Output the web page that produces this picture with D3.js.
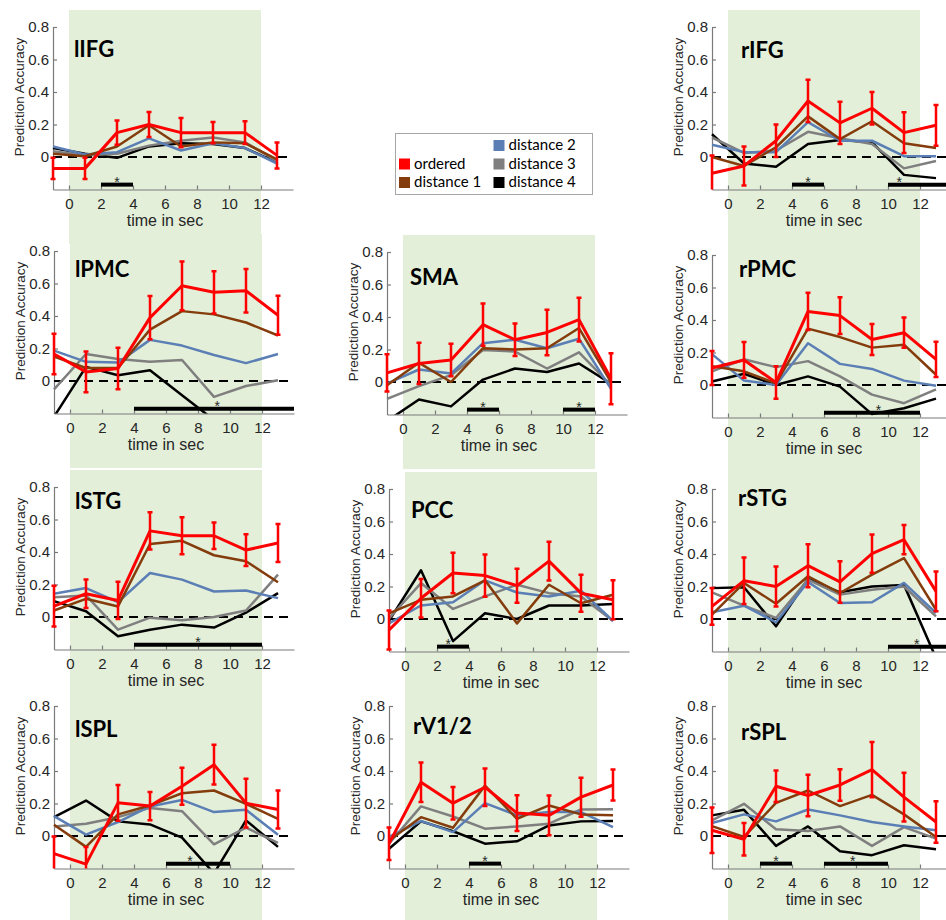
<!DOCTYPE html>
<html>
<head>
<meta charset="utf-8">
<script src="https://cdn.jsdelivr.net/npm/d3@7"></script>
<style>
	body { margin: 0; background: #fff; }
	svg { display: block; }
	.axis path, .axis line { stroke: #7a7a7a; stroke-width: 1.2; }
	.axis .tick text { font-family: "Liberation Sans", Arial, sans-serif; font-size: 15px; fill: #262626; }
	.lbl { font-family: "Liberation Sans", Arial, sans-serif; fill: #262626; }
	.title { font-family: Lato, "Open Sans", sans-serif; font-weight: bold; font-size: 22px; fill: #000; }
	.legend text { font-family: Lato, "Open Sans", sans-serif; font-size: 15px; fill: #000; }
</style>
</head>
<body>
<div id="chart"></div>
<script>
const times = [-1, 1, 3, 5, 7, 9, 11, 13]
const xTicks = [0, 2, 4, 6, 8, 10, 12]
const yTicks = [0, 0.2, 0.4, 0.6, 0.8]
const seriesNames = ['ordered', 'distance 1', 'distance 2', 'distance 3', 'distance 4']
// legend grid slot (column-major, 3 rows), slot 0 is empty
const legendSlots = [1, 2, 3, 4, 5]

// rows: ordered, distance 1, distance 2, distance 3, distance 4
const lIFG = [
	[-0.07, -0.07, 0.15, 0.2, 0.15, 0.15, 0.15, 0.01],
	[0.02, 0.005, 0.065, 0.195, 0.065, 0.09, 0.085, -0.015],
	[0.065, 0.015, 0.03, 0.115, 0.04, 0.085, 0.055, -0.04],
	[0.035, 0.01, 0.02, 0.07, 0.1, 0.12, 0.09, -0.025],
	[0.055, 0.02, -0.005, 0.065, 0.085, 0.08, 0.055, -0.035]
]
const lIFG_err = [0.065, 0.065, 0.075, 0.077, 0.09, 0.065, 0.07, 0.08]
const lIFG_sig = [[2, 4, 3]]

const rIFG = [
	[-0.1, -0.055, 0.1, 0.345, 0.21, 0.3, 0.15, 0.195],
	[0.0, -0.055, 0.06, 0.25, 0.11, 0.22, 0.085, 0.055],
	[0.075, 0.03, 0.03, 0.215, 0.1, 0.1, 0.005, 0.005],
	[0.12, 0.025, 0.04, 0.155, 0.115, 0.08, -0.07, -0.025],
	[0.14, -0.04, -0.06, 0.08, 0.105, 0.09, -0.11, -0.13]
]
const rIFG_err = [0.11, 0.12, 0.1, 0.13, 0.13, 0.1, 0.125, 0.125]
const rIFG_sig = [[4, 6, 5], [10, 14.5, 10.7]]

const lPMC = [
	[0.166, 0.056, 0.077, 0.39, 0.586, 0.546, 0.555, 0.405],
	[0.15, 0.08, 0.08, 0.316, 0.43, 0.41, 0.36, 0.28],
	[0.187, 0.118, 0.114, 0.253, 0.218, 0.16, 0.11, 0.166],
	[-0.052, 0.166, 0.135, 0.118, 0.129, -0.098, -0.031, 0.004],
	[-0.22, 0.087, 0.035, 0.066, -0.087, -0.24, -0.3, -0.3]
]
const lPMC_err = [0.125, 0.125, 0.127, 0.133, 0.15, 0.13, 0.134, 0.12]
const lPMC_sig = [[4, 14, 9.2]]

const SMA = [
	[0.056, 0.114, 0.135, 0.353, 0.26, 0.305, 0.384, 0.02],
	[-0.02, 0.118, 0.0, 0.208, 0.2, 0.208, 0.332, 0.0],
	[-0.01, 0.077, 0.052, 0.239, 0.26, 0.208, 0.266, -0.042],
	[-0.104, -0.025, 0.042, 0.197, 0.187, 0.083, 0.183, -0.02],
	[-0.24, -0.108, -0.15, 0.015, 0.083, 0.062, 0.114, -0.01]
]
const SMA_err = [0.115, 0.127, 0.1, 0.13, 0.1, 0.14, 0.135, 0.157]
const SMA_sig = [[4, 6, 5], [10, 12, 11]]

const rPMC = [
	[0.105, 0.154, 0.015, 0.453, 0.427, 0.28, 0.322, 0.158],
	[0.116, 0.084, 0.01, 0.347, 0.295, 0.23, 0.248, 0.063],
	[0.19, 0.027, 0.0, 0.257, 0.13, 0.099, 0.027, -0.004],
	[0.084, 0.158, 0.11, 0.147, 0.053, -0.059, -0.112, -0.027],
	[0.021, 0.069, 0.0, 0.053, -0.01, -0.179, -0.143, -0.084]
]
const rPMC_err = [0.105, 0.11, 0.1, 0.115, 0.113, 0.096, 0.093, 0.108]
const rPMC_sig = [[6, 12, 9.4]]

const lSTG = [
	[0.067, 0.143, 0.102, 0.53, 0.5, 0.5, 0.412, 0.455],
	[0.04, 0.112, 0.065, 0.449, 0.469, 0.38, 0.343, 0.214],
	[0.143, 0.178, 0.092, 0.271, 0.23, 0.157, 0.163, 0.116],
	[0.122, 0.133, -0.078, -0.004, -0.02, 0.0, 0.04, 0.261],
	[0.098, 0.035, -0.118, -0.078, -0.047, -0.065, 0.027, 0.147]
]
const lSTG_err = [0.125, 0.088, 0.115, 0.114, 0.114, 0.082, 0.098, 0.117]
const lSTG_sig = [[4, 12, 8]]

const PCC = [
	[-0.068, 0.128, 0.283, 0.267, 0.205, 0.356, 0.159, 0.118],
	[0.035, 0.118, 0.139, 0.238, -0.027, 0.211, 0.097, 0.149],
	[-0.027, 0.083, 0.103, 0.238, 0.163, 0.139, 0.174, -0.012],
	[0.004, 0.221, 0.062, 0.139, 0.211, 0.159, 0.139, -0.012],
	[-0.012, 0.3, -0.136, 0.035, 0.0, 0.083, 0.083, 0.093]
]
const PCC_err = [0.12, 0.118, 0.124, 0.13, 0.105, 0.119, 0.114, 0.12]
const PCC_sig = [[2, 4, 2.7]]

const rSTG = [
	[0.078, 0.236, 0.2, 0.328, 0.228, 0.402, 0.488, 0.17],
	[0.027, 0.222, 0.094, 0.263, 0.16, 0.273, 0.375, 0.057],
	[0.041, 0.082, -0.02, 0.228, 0.098, 0.103, 0.222, 0.037],
	[0.164, 0.082, 0.006, 0.242, 0.15, 0.18, 0.2, 0.016],
	[0.19, 0.195, -0.045, 0.246, 0.164, 0.2, 0.21, -0.24]
]
const rSTG_err = [0.113, 0.143, 0.123, 0.132, 0.128, 0.118, 0.09, 0.123]
const rSTG_sig = [[10, 14.5, 11.8]]

const lSPL = [
	[-0.108, -0.173, 0.204, 0.184, 0.306, 0.439, 0.202, 0.163],
	[0.069, -0.067, 0.133, 0.188, 0.263, 0.28, 0.198, 0.106],
	[0.122, 0.008, 0.086, 0.182, 0.222, 0.147, 0.161, 0.008],
	[0.059, 0.076, 0.116, 0.173, 0.153, -0.051, 0.051, -0.043],
	[0.116, 0.218, 0.09, 0.071, -0.01, -0.23, 0.096, -0.067]
]
const lSPL_err = [0.105, 0.106, 0.11, 0.087, 0.114, 0.122, 0.15, 0.117]
const lSPL_sig = [[6, 10, 7.5]]

const rV12 = [
	[-0.047, 0.331, 0.202, 0.3, 0.141, 0.127, 0.239, 0.314],
	[-0.027, 0.116, 0.051, 0.31, 0.106, 0.188, 0.133, 0.127],
	[-0.006, 0.092, 0.024, 0.202, 0.127, 0.147, 0.147, 0.055],
	[-0.047, 0.182, 0.12, 0.045, 0.059, 0.076, 0.163, 0.165],
	[-0.078, 0.09, 0.029, -0.047, -0.033, 0.065, 0.09, 0.092]
]
const rV12_err = [0.1, 0.122, 0.1, 0.115, 0.11, 0.122, 0.12, 0.095]
const rV12_sig = [[4, 6, 5]]

const rSPL = [
	[0.035, -0.02, 0.306, 0.249, 0.314, 0.408, 0.239, 0.086],
	[0.061, -0.006, 0.204, 0.28, 0.184, 0.253, 0.133, -0.006],
	[0.08, 0.133, 0.09, 0.163, 0.127, 0.086, 0.059, 0.035],
	[0.096, 0.198, 0.041, 0.031, 0.059, -0.061, 0.055, -0.016],
	[0.127, 0.161, -0.061, 0.059, -0.094, -0.118, -0.057, -0.082]
]
const rSPL_err = [0.14, 0.1, 0.097, 0.128, 0.097, 0.17, 0.15, 0.128]
const rSPL_sig = [[2, 4, 3], [6, 10, 7.8]]

const panels = [
	{ name: 'lIFG', values: lIFG, err: lIFG_err, sig: lIFG_sig },
	{ name: 'rIFG', values: rIFG, err: rIFG_err, sig: rIFG_sig },
	{ name: 'lPMC', values: lPMC, err: lPMC_err, sig: lPMC_sig },
	{ name: 'SMA', values: SMA, err: SMA_err, sig: SMA_sig },
	{ name: 'rPMC', values: rPMC, err: rPMC_err, sig: rPMC_sig },
	{ name: 'lSTG', values: lSTG, err: lSTG_err, sig: lSTG_sig },
	{ name: 'PCC', values: PCC, err: PCC_err, sig: PCC_sig },
	{ name: 'rSTG', values: rSTG, err: rSTG_err, sig: rSTG_sig },
	{ name: 'lSPL', values: lSPL, err: lSPL_err, sig: lSPL_sig },
	{ name: 'rV1/2', values: rV12, err: rV12_err, sig: rV12_sig },
	{ name: 'rSPL', values: rSPL, err: rSPL_err, sig: rSPL_sig }
]

// pixel position of (0,0) for every panel, plus title offset
const layout = {
	lIFG: { x0: 69, y0: 157, tx: 5, ty: -100 },
	rIFG: { x0: 728, y0: 157, tx: 13, ty: -99 },
	lPMC: { x0: 70, y0: 381, tx: 5, ty: -104 },
	SMA: { x0: 403, y0: 382, tx: 7, ty: -97 },
	rPMC: { x0: 728, y0: 385, tx: 11, ty: -108 },
	lSTG: { x0: 70, y0: 617, tx: 5, ty: -108 },
	PCC: { x0: 405, y0: 619, tx: 6, ty: -101 },
	rSTG: { x0: 728, y0: 619, tx: 10, ty: -113 },
	lSPL: { x0: 70, y0: 836, tx: 5, ty: -99 },
	'rV1/2': { x0: 405, y0: 836, tx: 8, ty: -102 },
	rSPL: { x0: 728, y0: 836, tx: 13, ty: -96 }
}

const colors = ['#ff0000', '#843c0c', '#5b7fb5', '#7f7f7f', '#000000']
const widths = [3, 2.5, 2.5, 2.5, 2.5]
const green = '#e3efd9'
const unitX = 16
const unitY = 162.5
const sigLevel = -0.17

const svg = d3.select('#chart')
	.append('svg')
	.attr('width', 946)
	.attr('height', 920)

const defs = svg.append('defs')
const back = svg.append('g')
const front = svg.append('g')

panels.forEach((p, pi) => {
	const L = layout[p.name]
	const x = d3.scaleLinear().domain([-1, 14]).range([L.x0 - unitX, L.x0 + 14 * unitX])
	const y = d3.scaleLinear().domain([-0.2, 0.8]).range([L.y0 + 0.2 * unitY, L.y0 - 0.8 * unitY])

	back.append('rect')
		.attr('x', x(0))
		.attr('width', x(12) - x(0))
		.attr('y', L.y0 - 147)
		.attr('height', 234)
		.attr('fill', green)

	defs.append('clipPath')
		.attr('id', `clip${pi}`)
		.append('rect')
		.attr('x', x(-1) - 4)
		.attr('y', y(0.85))
		.attr('width', x(14.6) - x(-1) + 4)
		.attr('height', y(-0.2) - y(0.85))

	const g = front.append('g')

	const xAxis = d3.axisBottom(x)
		.tickValues(xTicks)
		.tickSize(-4)
		.tickSizeOuter(0)
		.tickPadding(9)

	const yAxis = d3.axisLeft(y)
		.tickValues(yTicks)
		.tickSize(-4)
		.tickSizeOuter(0)
		.tickPadding(4)
		.tickFormat(d => (d === 0 ? '0' : d3.format('.1f')(d)))

	g.append('g')
		.classed('axis', true)
		.attr('transform', `translate(0,${y(-0.2)})`)
		.call(xAxis)

	g.append('g')
		.classed('axis', true)
		.attr('transform', `translate(${x(-1)},0)`)
		.call(yAxis)

	const plot = g.append('g').attr('clip-path', `url(#clip${pi})`)

	plot.append('line')
		.attr('x1', x(-1))
		.attr('x2', x(14))
		.attr('y1', y(0))
		.attr('y2', y(0))
		.attr('stroke', '#000')
		.attr('stroke-width', 2)
		.attr('stroke-dasharray', '9,6')

	const line = d3.line()
		.x((d, i) => x(times[i]))
		.y(d => y(d))

	// distance 4 first, ordered on top
	d3.range(4, -1, -1).forEach(s => {
		plot.append('path')
			.datum(p.values[s])
			.attr('d', line)
			.attr('fill', 'none')
			.attr('stroke', colors[s])
			.attr('stroke-width', widths[s])
			.attr('stroke-linejoin', 'round')
	})

	const bars = plot.selectAll('.eb')
		.data(p.values[0].map((v, i) => ({ t: times[i], v, e: p.err[i] })))
		.enter()
		.append('g')
		.attr('stroke', colors[0])
		.attr('stroke-width', 2.5)

	bars.append('line')
		.attr('x1', d => x(d.t))
		.attr('x2', d => x(d.t))
		.attr('y1', d => y(d.v - d.e))
		.attr('y2', d => y(d.v + d.e))

	bars.append('line')
		.attr('x1', d => x(d.t) - 2.5)
		.attr('x2', d => x(d.t) + 2.5)
		.attr('y1', d => y(d.v - d.e))
		.attr('y2', d => y(d.v - d.e))

	bars.append('line')
		.attr('x1', d => x(d.t) - 2.5)
		.attr('x2', d => x(d.t) + 2.5)
		.attr('y1', d => y(d.v + d.e))
		.attr('y2', d => y(d.v + d.e))

	p.sig.forEach(s => {
		g.append('line')
			.attr('x1', x(s[0]))
			.attr('x2', x(s[1]))
			.attr('y1', y(sigLevel))
			.attr('y2', y(sigLevel))
			.attr('stroke', '#000')
			.attr('stroke-width', 4)
		g.append('text')
			.classed('lbl', true)
			.attr('x', x(s[2]))
			.attr('y', y(sigLevel) + 2)
			.attr('text-anchor', 'middle')
			.style('font-size', '14px')
			.text('*')
	})

	g.append('text')
		.classed('title', true)
		.attr('x', L.x0 + L.tx)
		.attr('y', L.y0 + L.ty)
		.text(p.name)

	g.append('text')
		.classed('lbl', true)
		.attr('transform', `translate(${L.x0 - 50},${L.y0 - 60}) rotate(-90)`)
		.attr('dy', '0.35em')
		.attr('text-anchor', 'middle')
		.style('font-size', '13.5px')
		.text('Prediction Accuracy')

	g.append('text')
		.classed('lbl', true)
		.attr('x', x(6))
		.attr('y', y(-0.2) + 36)
		.attr('text-anchor', 'middle')
		.style('font-size', '16px')
		.text('time in sec')
})

// legend
const legend = svg.append('g').classed('legend', true)

legend.append('rect')
	.attr('x', 395.5)
	.attr('y', 133.5)
	.attr('width', 197)
	.attr('height', 61)
	.attr('fill', '#fff')
	.attr('stroke', '#a6a6a6')
	.attr('stroke-width', 1)

const item = legend.selectAll('.item')
	.data(seriesNames.map((n, i) => ({ n, c: colors[i], slot: legendSlots[i] })))
	.enter()
	.append('g')
	.attr('transform', d => `translate(${399 + Math.floor(d.slot / 3) * 94.5},${140 + (d.slot % 3) * 18.5})`)

item.append('rect')
	.attr('width', 11)
	.attr('height', 11)
	.attr('fill', d => d.c)

item.append('text')
	.attr('x', 15)
	.attr('y', 10)
	.text(d => d.n)
</script>
</body>
</html>
